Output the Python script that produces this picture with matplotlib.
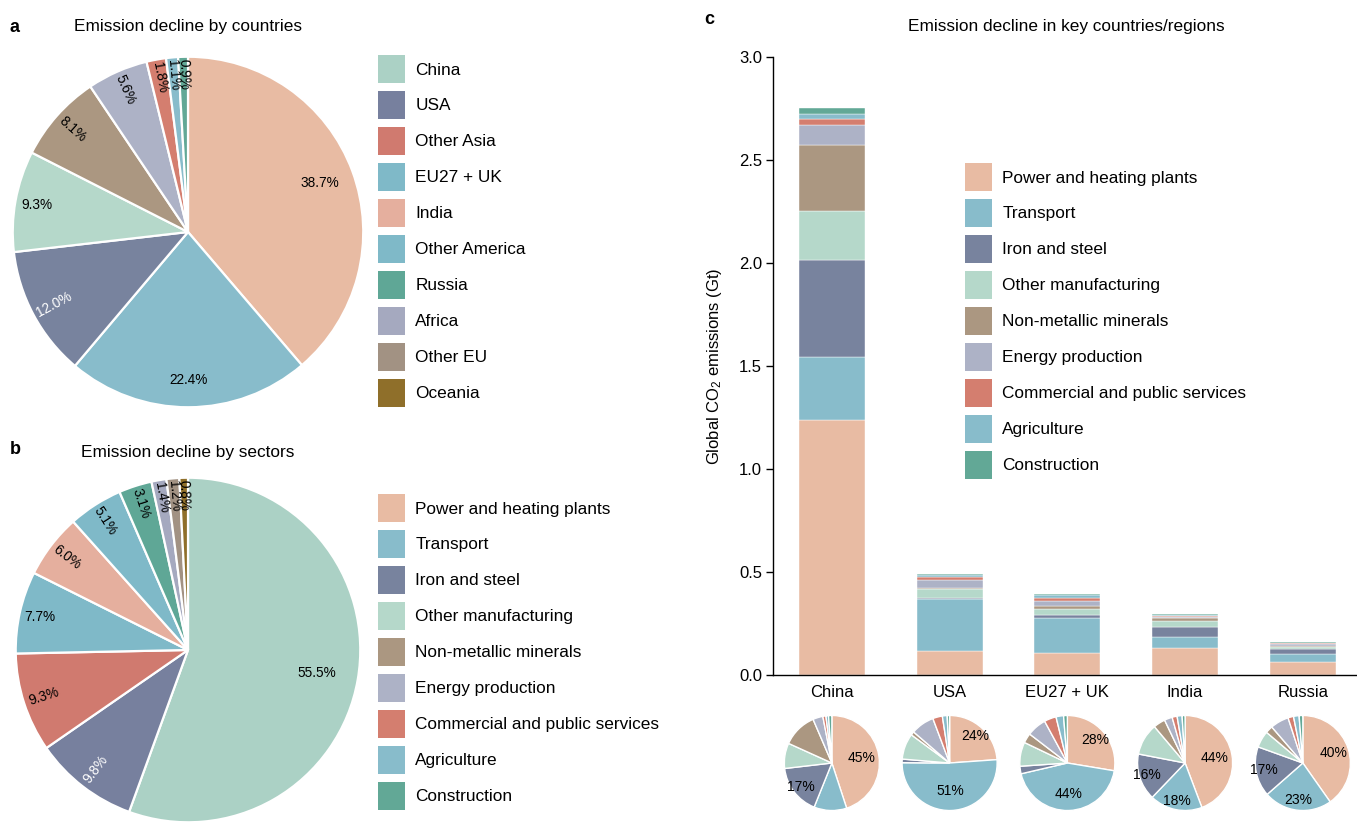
import numpy as np
import matplotlib.pyplot as plt
from matplotlib.patches import Patch
from matplotlib.colors import to_rgb

plt.rcParams['font.family'] = ['Liberation Sans', 'DejaVu Sans']
plt.rcParams['mathtext.fontset'] = 'custom'
plt.rcParams['mathtext.rm'] = 'Liberation Sans'
plt.rcParams['mathtext.it'] = 'Liberation Sans:italic'

W, H = 1357, 826

# legend of panel a / palette of panel b
countries = ['China', 'USA', 'Other Asia', 'EU27 + UK', 'India', 'Other America',
             'Russia', 'Africa', 'Other EU', 'Oceania']
country_colors = ['#ABD1C5', '#77809E', '#D07A6F', '#7FB9C8', '#E5AF9E', '#7FB9C8',
                  '#5FA796', '#A5A9BF', '#A29283', '#8F6F2A']

sectors = ['Power and heating plants', 'Transport', 'Iron and steel', 'Other manufacturing',
           'Non-metallic minerals', 'Energy production', 'Commercial and public services',
           'Agriculture', 'Construction']
sector_colors = ['#E8BBA3', '#88BCCB', '#78839E', '#B5D8CA', '#AB9781', '#ADB2C6',
                 '#D47E6F', '#88BCCB', '#62A896']

# shares (%) of the two big pies
share_a = [38.7, 22.4, 12.0, 9.3, 8.1, 5.6, 1.8, 1.1, 0.9]
share_b = [55.5, 9.8, 9.3, 7.7, 6.0, 5.1, 3.1, 1.4, 1.2, 0.8]

# emission decline (Gt) by sector for each region
regions = ['China', 'USA', 'EU27 + UK', 'India', 'Russia']
power = [1.238, 0.117, 0.108, 0.131, 0.064]
transport = [0.306, 0.251, 0.171, 0.053, 0.037]
iron_steel = [0.470, 0.006, 0.010, 0.047, 0.027]
other_manuf = [0.237, 0.043, 0.032, 0.032, 0.009]
non_metallic = [0.324, 0.006, 0.013, 0.012, 0.004]
energy_prod = [0.094, 0.039, 0.026, 0.008, 0.010]
commercial = [0.029, 0.016, 0.016, 0.005, 0.003]
agriculture = [0.024, 0.008, 0.010, 0.005, 0.003]
construction = [0.031, 0.004, 0.005, 0.003, 0.002]
by_sector = [power, transport, iron_steel, other_manuf, non_metallic,
             energy_prod, commercial, agriculture, construction]

DARK = [to_rgb('#78839E'), to_rgb('#77809E')]


def px_axes(fig, left, top, width, height):
    return fig.add_axes([left / W, 1 - (top + height) / H, width / W, height / H])


def fx(x):
    return x / W


def fy(y):
    return 1 - y / H


def big_pie(ax, values, colors):
    wedges, _ = ax.pie(values, colors=colors, startangle=90, counterclock=False,
                       wedgeprops=dict(edgecolor='white', linewidth=1.6))
    for w, v in zip(wedges, values):
        t = ((w.theta1 + w.theta2) / 2) % 360
        r = 0.9 - 0.0025 * v
        x, y = r * np.cos(np.radians(t)), r * np.sin(np.radians(t))
        rot = 0
        if 90 < t < 270 and abs(t - 180) > 15:
            rot = t - 180
        col = 'white' if tuple(w.get_facecolor()[:3]) in DARK else 'black'
        ax.text(x, y, f'{v:.1f}%', ha='center', va='center', rotation=rot,
                rotation_mode='anchor', fontsize=9.8, color=col)
    ax.set_xlim(-1.01, 1.01)
    ax.set_ylim(-1.01, 1.01)
    ax.set_aspect('equal')
    ax.axis('off')


def small_pie(ax, values, colors):
    total = sum(values)
    wedges, _ = ax.pie(values, colors=colors, startangle=90, counterclock=False,
                       wedgeprops=dict(edgecolor='white', linewidth=1.0))
    for w, v in zip(wedges, values):
        pct = v / total * 100
        if pct < 15:
            continue
        t = np.radians((w.theta1 + w.theta2) / 2)
        r = 0.95 - 0.007 * pct
        ax.text(r * np.cos(t), r * np.sin(t), f'{pct:.0f}%', ha='center', va='center',
                fontsize=10)
    ax.set_xlim(-1.01, 1.01)
    ax.set_ylim(-1.01, 1.01)
    ax.set_aspect('equal')
    ax.axis('off')


def legend(fig, labels, colors, left, top):
    handles = [Patch(facecolor=c, edgecolor='none') for c in colors]
    fig.legend(handles, labels, loc='upper left', bbox_to_anchor=(fx(left), fy(top)),
               frameon=False, fontsize=12.4, borderpad=0, borderaxespad=0,
               handlelength=1.57, handleheight=2.15, labelspacing=0.445,
               handletextpad=0.6)


fig = plt.figure(figsize=(W / 100, H / 100), dpi=100)

# panel a
ax_a = px_axes(fig, 11, 55, 354, 354)
big_pie(ax_a, share_a, sector_colors)
fig.text(fx(15), fy(27), 'a', fontsize=13, fontweight='bold', ha='center', va='center')
fig.text(fx(188), fy(27), 'Emission decline by countries', fontsize=12.4,
         ha='center', va='center')
legend(fig, countries, country_colors, 378, 55)

# panel b
ax_b = px_axes(fig, 14, 476, 348, 348)
big_pie(ax_b, share_b, country_colors)
fig.text(fx(15), fy(449), 'b', fontsize=13, fontweight='bold', ha='center', va='center')
fig.text(fx(188), fy(452), 'Emission decline by sectors', fontsize=12.4,
         ha='center', va='center')
legend(fig, sectors, sector_colors, 378, 494)

# panel c: stacked bars
ax_c = px_axes(fig, 773, 57, 584, 618)
x = np.arange(len(regions))
bottom = np.zeros(len(regions))
for vals, col in zip(by_sector, sector_colors):
    ax_c.bar(x, vals, width=0.56, bottom=bottom, color=col, edgecolor='white',
             linewidth=0.3)
    bottom += np.array(vals)
ax_c.set_xlim(-0.5, 4.46)
ax_c.set_ylim(0, 3.0)
ax_c.set_yticks(np.arange(0, 3.01, 0.5))
ax_c.set_xticks(x)
ax_c.set_xticklabels(regions)
ax_c.tick_params(axis='x', length=0, pad=7, labelsize=12)
ax_c.tick_params(axis='y', length=5, width=1, direction='out', labelsize=12, pad=3)
for s in ['top', 'right']:
    ax_c.spines[s].set_visible(False)
for s in ['left', 'bottom']:
    ax_c.spines[s].set_linewidth(1.0)
ax_c.set_ylabel('Global CO$_2$ emissions (Gt)', fontsize=12, labelpad=10.5)
fig.text(fx(709), fy(20), 'c', fontsize=13, fontweight='bold', ha='center', va='center')
fig.text(fx(1066), fy(27), 'Emission decline in key countries/regions', fontsize=12.4,
         ha='center', va='center')
legend(fig, sectors, sector_colors, 965, 163)

# small pies under each bar
to_fig = fig.transFigure.inverted()
for i in range(len(regions)):
    cx_disp = ax_c.transData.transform((i, 0))[0]
    cx = to_fig.transform((cx_disp, 0))[0] * W
    ax_p = px_axes(fig, cx - 48, 715, 96, 96)
    small_pie(ax_p, [s[i] for s in by_sector], sector_colors)

fig.savefig('out.png', dpi=100)
